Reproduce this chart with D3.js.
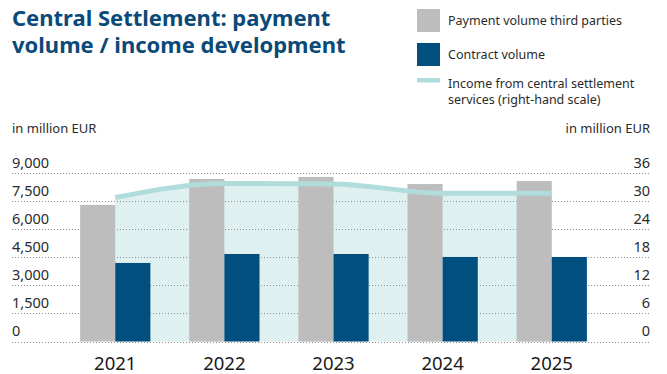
<!DOCTYPE html>
<html>
<head>
<meta charset="utf-8">
<script src="https://cdn.jsdelivr.net/npm/d3@7"></script>
<style>
  html, body { margin: 0; padding: 0; background: #fff; }
  svg { display: block; font-family: "Noto Sans", "Open Sans", sans-serif; }
</style>
</head>
<body>
<svg id="chart" width="667" height="374"></svg>
<script>
// Central settlement figures, in million EUR
const years = ["2021", "2022", "2023", "2024", "2025"];
const paymentVolume = [7300, 8690, 8800, 8420, 8580];
const contractVolume = [4200, 4680, 4680, 4520, 4520];
const incomeServices = [30.8, 33.8, 33.7, 31.7, 31.7];
const leftTicks = [0, 1500, 3000, 4500, 6000, 7500, 9000];
const rightTicks = [0, 6, 12, 18, 24, 30, 36];

const colors = {
  title: "#0b4a78",
  text: "#2b2b2b",
  grey: "#bcbdbc",
  blue: "#004f7e",
  line: "#b0dcdb",
  area: "#dff0f0",
  grid: "#8e8e8e"
};

const svg = d3.select("#chart");
const gridLeft = 12, gridRight = 650, plotTop = 173.2, plotBottom = 341.5;
const plotX0 = 62, plotX1 = 605;

const x = d3.scaleBand().domain(years).range([plotX0, plotX1]).paddingInner(0.356).paddingOuter(0.166);
const yL = d3.scaleLinear().domain([0, 9000]).range([plotBottom, plotTop]);
const yR = d3.scaleLinear().domain([0, 36]).range([plotBottom, plotTop]);
const half = x.bandwidth() / 2;
const center = d => x(d) + half;

// Title, two lines
svg.append("text").attr("x", 12).attr("y", 26)
  .attr("fill", colors.title).attr("font-size", 22).attr("font-weight", 700)
  .text("Central Settlement: payment");
svg.append("text").attr("x", 12).attr("y", 53)
  .attr("fill", colors.title).attr("font-size", 22).attr("font-weight", 700)
  .text("volume / income development");

// Legend
const lg = svg.append("g");
lg.append("rect").attr("x", 417).attr("y", 9).attr("width", 23).attr("height", 23).attr("fill", colors.grey);
lg.append("rect").attr("x", 417).attr("y", 43).attr("width", 23).attr("height", 23).attr("fill", colors.blue);
lg.append("rect").attr("x", 417).attr("y", 78).attr("width", 23).attr("height", 4.5).attr("fill", colors.line);
const legendText = [
  { y: 25, t: "Payment volume third parties" },
  { y: 59, t: "Contract volume" },
  { y: 88, t: "Income from central settlement" },
  { y: 104, t: "services (right-hand scale)" }
];
lg.selectAll("text.lt").data(legendText).join("text")
  .attr("class", "lt")
  .attr("x", 448).attr("y", d => d.y)
  .attr("fill", colors.text).attr("font-size", 12.5)
  .text(d => d.t);

// Axis titles
svg.append("text").attr("x", gridLeft).attr("y", 133).attr("fill", colors.text).attr("font-size", 13).text("in million EUR");
svg.append("text").attr("x", gridRight).attr("y", 133).attr("text-anchor", "end").attr("fill", colors.text).attr("font-size", 13).text("in million EUR");

// Income area under the line, spanning group centers
const area = d3.area()
  .x((d, i) => center(years[i]))
  .y0(plotBottom)
  .y1(d => yR(d))
  .curve(d3.curveMonotoneX);
svg.append("path").datum(incomeServices).attr("d", area).attr("fill", colors.area);

// Gridlines
svg.append("g").selectAll("line").data(leftTicks).join("line")
  .attr("x1", gridLeft).attr("x2", gridRight)
  .attr("y1", d => Math.round(yL(d)) + 0.5).attr("y2", d => Math.round(yL(d)) + 0.5)
  .attr("stroke", colors.grid).attr("stroke-width", 1)
  .attr("stroke-dasharray", "1,2");

// Bars
const bars = svg.append("g");
bars.selectAll("rect.pay").data(years).join("rect")
  .attr("class", "pay")
  .attr("x", d => x(d)).attr("width", half)
  .attr("y", (d, i) => yL(paymentVolume[i]))
  .attr("height", (d, i) => plotBottom - yL(paymentVolume[i]))
  .attr("fill", colors.grey);
bars.selectAll("rect.con").data(years).join("rect")
  .attr("class", "con")
  .attr("x", d => center(d)).attr("width", half)
  .attr("y", (d, i) => yL(contractVolume[i]))
  .attr("height", (d, i) => plotBottom - yL(contractVolume[i]))
  .attr("fill", colors.blue);

// Income line
const line = d3.line()
  .x((d, i) => center(years[i]))
  .y(d => yR(d))
  .curve(d3.curveMonotoneX);
svg.append("path").datum(incomeServices).attr("d", line)
  .attr("fill", "none").attr("stroke", colors.line).attr("stroke-width", 5);

// Left axis labels
const axL = svg.append("g").attr("transform", `translate(${gridLeft},0)`)
  .call(d3.axisRight(yL).tickValues(leftTicks).tickSize(0).tickPadding(0).tickFormat(d3.format(",")));
axL.select(".domain").remove();
axL.selectAll("text").attr("dy", "-6").attr("font-size", 14.5).attr("fill", colors.text)
  .attr("text-anchor", "start");
axL.attr("font-family", null);

// Right axis labels
const axR = svg.append("g").attr("transform", `translate(${gridRight},0)`)
  .call(d3.axisLeft(yR).tickValues(rightTicks).tickSize(0).tickPadding(0));
axR.select(".domain").remove();
axR.selectAll("text").attr("dy", "-6").attr("font-size", 14.5).attr("fill", colors.text)
  .attr("text-anchor", "end");
axR.attr("font-family", null);

// Year labels
const axX = svg.append("g").attr("transform", `translate(0,${plotBottom})`)
  .call(d3.axisBottom(x).tickSize(0).tickPadding(0));
axX.select(".domain").remove();
axX.selectAll("text").attr("y", 0).attr("dy", 28)
  .attr("font-size", 18.5).attr("fill", "#1a1a1a");
axX.attr("font-family", null);
</script>
</body>
</html>
